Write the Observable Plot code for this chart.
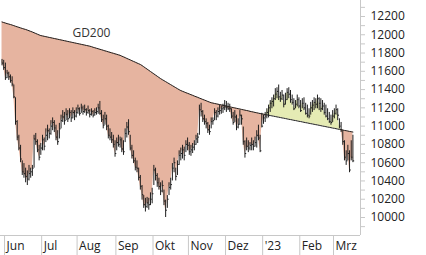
<!DOCTYPE html>
<html><head><meta charset="utf-8">
<script src="https://cdn.jsdelivr.net/npm/d3@7"></script>
<script src="https://cdn.jsdelivr.net/npm/@observablehq/plot@0.6"></script>
<style>body{margin:0;background:#fff} svg{display:block}</style>
</head><body><div id="chart"></div>
<script>
const monthLabels = ["Jun","Jul","Aug","Sep","Okt","Nov","Dez","'23","Feb","Mrz"];
const yTicks = [10000,10200,10400,10600,10800,11000,11200,11400,11600,11800,12000,12200];
const yMinor = [9900,10000,10100,10200,10300,10400,10500,10600,10700,10800,10900,11000,11100,11200,11300,11400,11500,11600,11700,11800,11900,12000,12100,12200,12300];

const close = [
11690,11640,11530,11580,11540,11500,11460,11320,11050,10880,
10760,10640,10500,10480,10450,10420,10480,10500,10540,10860,
10830,10740,10660,10760,10850,10780,10900,10950,10920,11000,
11040,10980,10880,10830,10970,11060,11100,11060,11130,11080,
11150,11090,11150,11110,11150,11190,11140,11200,11160,11180,
11150,11170,11130,11160,11120,11150,11160,11200,11140,11070,
11010,11080,11000,10900,10880,10850,10800,10700,10820,10800,
10850,10750,10720,10920,10990,10940,10760,10680,10620,10550,
10540,10440,10340,10250,10140,10120,10160,10140,10200,10260,
10520,10460,10380,10340,10290,10350,10180,10080,10200,10330,
10360,10540,10600,10450,10580,10680,10700,10740,10680,10800,
10790,10720,10740,10770,10800,10860,10880,11180,11160,11080,
11050,11030,10960,10940,11050,11060,11150,11110,11160,11170,
11190,11200,11210,11200,11190,11190,11110,11040,11100,10990,
11020,11120,11080,10830,10700,10780,10760,10790,10800,10780,
10820,10900,10870,10730,11000,11090,11110,11150,11200,11250,
11270,11300,11350,11380,11320,11300,11340,11240,11290,11370,
11350,11290,11260,11190,11240,11290,11220,11170,11250,11200,
11140,11120,11110,11200,11230,11260,11240,11300,11250,11190,
11220,11150,11110,11080,11050,11040,11110,11140,11180,11120,
11000,10960,10830,10660,10620,10700,10520,10660,10620];
const high = [
11730,11720,11690,11610,11590,11560,11540,11450,11310,11060,
10900,10790,10620,10590,10540,10510,10570,10540,10570,10900,
10920,10850,10790,10810,10900,10870,10970,11010,10970,11060,
11090,11060,11010,10950,11030,11120,11170,11150,11190,11170,
11190,11170,11200,11170,11200,11230,11200,11240,11220,11230,
11190,11220,11180,11190,11170,11190,11200,11240,11270,11170,
11120,11150,11120,11010,10970,10930,10900,10840,10870,10900,
10880,10870,10840,10970,11040,11070,10900,10790,10730,10650,
10620,10540,10460,10350,10240,10210,10220,10210,10270,10320,
10570,10540,10480,10430,10380,10400,10300,10190,10240,10380,
10430,10590,10650,10540,10620,10730,10760,10790,10770,10840,
10870,10820,10790,10810,10840,10900,10920,11230,11250,11170,
11120,11080,11040,11010,11090,11090,11190,11170,11200,11230,
11220,11240,11280,11270,11250,11240,11190,11150,11170,11120,
11080,11170,11120,10990,10840,10870,10840,10820,10870,10840,
10880,10950,11010,10900,11140,11120,11150,11190,11230,11280,
11310,11340,11410,11420,11450,11370,11390,11340,11360,11410,
11420,11390,11340,11300,11280,11340,11310,11280,11300,11310,
11250,11230,11190,11260,11280,11310,11300,11340,11310,11300,
11280,11250,11230,11190,11150,11120,11170,11190,11230,11190,
11080,11040,10950,10840,10730,10790,10730,10840,10900];
const low = [
11660,11610,11500,11520,11500,11470,11430,11300,11010,10840,
10730,10600,10460,10430,10380,10350,10400,10430,10450,10540,
10790,10710,10620,10680,10730,10730,10820,10840,10860,10900,
10950,10930,10840,10790,10860,10970,11040,11010,11060,11040,
11080,11040,11080,11060,11090,11130,11110,11140,11120,11140,
11110,11130,11090,11110,11090,11110,11120,11130,11120,11040,
10970,11010,10950,10860,10840,10810,10760,10660,10730,10770,
10760,10710,10680,10820,10870,10900,10730,10640,10590,10510,
10490,10400,10300,10190,10100,10060,10100,10080,10130,10150,
10350,10400,10330,10300,10240,10270,10130,10000,10100,10240,
10300,10400,10490,10400,10460,10570,10620,10640,10620,10710,
10730,10680,10670,10700,10730,10790,10810,10900,11100,11040,
11010,10970,10920,10900,10970,11010,11060,11060,11090,11120,
11130,11140,11170,11150,11170,11150,11080,11010,11040,10950,
10970,11010,11010,10790,10650,10730,10710,10730,10730,10730,
10770,10760,10840,10710,10980,11020,11040,11080,11090,11150,
11190,11210,11280,11300,11280,11260,11280,11200,11230,11280,
11300,11250,11230,11170,11190,11210,11190,11150,11190,11170,
11120,11090,11080,11120,11150,11170,11190,11190,11170,11150,
11170,11120,11090,11060,11030,11010,11040,11080,11120,11060,
10970,10930,10790,10620,10570,10620,10490,10620,10600];
const gd200 = [
12140,12134,12128,12122,12117,12112,12106,12100,12093,12087,
12081,12075,12069,12063,12058,12051,12044,12037,12030,12022,
12014,12006,11998,11991,11987,11983,11979,11975,11971,11967,
11963,11959,11955,11951,11947,11943,11939,11935,11931,11927,
11923,11919,11915,11911,11907,11903,11899,11895,11891,11887,
11883,11879,11875,11870,11863,11858,11852,11847,11841,11836,
11830,11824,11819,11813,11808,11802,11797,11791,11786,11780,
11775,11766,11758,11750,11741,11733,11725,11716,11708,11700,
11691,11683,11675,11663,11650,11637,11624,11611,11598,11585,
11572,11559,11546,11533,11520,11509,11498,11487,11476,11465,
11454,11443,11432,11421,11410,11399,11389,11381,11374,11366,
11359,11352,11344,11337,11329,11322,11315,11307,11300,11292,
11285,11278,11270,11263,11256,11252,11248,11244,11240,11236,
11232,11228,11224,11220,11215,11211,11207,11203,11199,11195,
11191,11187,11183,11179,11175,11171,11167,11162,11158,11154,
11150,11146,11142,11138,11135,11131,11127,11123,11120,11116,
11112,11109,11105,11101,11098,11094,11090,11087,11083,11079,
11075,11072,11068,11064,11061,11057,11053,11050,11046,11042,
11038,11035,11031,11027,11024,11020,11016,11013,11009,11005,
11001,10998,10994,10990,10987,10983,10979,10976,10972,10968,
10964,10961,10957,10953,10950,10946,10942,10939,10935];

// trading days (weekdays) starting Mon 30 May 2022
const days = [];
for (let d = new Date(Date.UTC(2022, 4, 30)); days.length < close.length; d = new Date(d.getTime() + 864e5)) {
  const w = d.getUTCDay();
  if (w !== 0 && w !== 6) days.push(new Date(d));
}
const data = close.map((c, i) => ({i, date: days[i], c, h: high[i], l: low[i], gd: gd200[i]}));
const bounds = [];
for (let i = 1; i < days.length; i++) if (days[i].getUTCMonth() !== days[i - 1].getUTCMonth()) bounds.push(i - 0.5);

const X0 = -0.9, X1 = 212.5, Y0 = 9803, Y1 = 12375;
const ink = "#1e1e1e", grid = "#c8c8c8";
const chart = Plot.plot({
  width: 426, height: 255,
  marginLeft: 0, marginRight: 66, marginTop: 0, marginBottom: 20,
  x: {domain: [X0, X1], axis: null, label: null},
  y: {domain: [Y0, Y1], axis: null, label: null},
  style: {fontFamily: "'Open Sans', sans-serif", fontSize: "12px", background: "#fff", color: "#222"},
  marks: [
    Plot.areaY(data, {x: "i", y1: "gd", y2: d => Math.min(d.c, d.gd), fill: "#E6B4A0"}),
    Plot.areaY(data, {x: "i", y1: "gd", y2: d => Math.max(d.c, d.gd), fill: "#E5EBB4"}),
    Plot.ruleX(data, {x: "i", y1: "l", y2: "h", stroke: ink, strokeWidth: 1}),
    Plot.link(data, {x1: "i", x2: d => d.i + 0.75, y1: "c", y2: "c", stroke: ink}),
    Plot.line(data, {x: "i", y: "gd", stroke: ink, strokeWidth: 1}),
    Plot.text(["GD200"], {x: 53, y: 12019, text: d => d, fontSize: 12, fill: "#333"}),
    Plot.ruleX([X1], {stroke: grid}),
    Plot.ruleY([Y0], {stroke: grid}),
    Plot.axisY({anchor: "right", label: null, ticks: yMinor, tickSize: 4, tickFormat: () => "", stroke: grid}),
    Plot.axisY({anchor: "right", label: null, ticks: yTicks, tickSize: 0, tickPadding: 10, tickFormat: d => String(d), fontSize: 12}),
    Plot.axisX({anchor: "bottom", label: null, ticks: bounds, tickSize: 20, tickFormat: () => "", stroke: grid}),
    Plot.text(monthLabels, {x: (d, i) => bounds[i], y: () => Y0, dy: 11, dx: 2, textAnchor: "start", text: d => d, fontSize: 12})
  ]
});
document.getElementById("chart").appendChild(chart);
</script>
</body></html>
